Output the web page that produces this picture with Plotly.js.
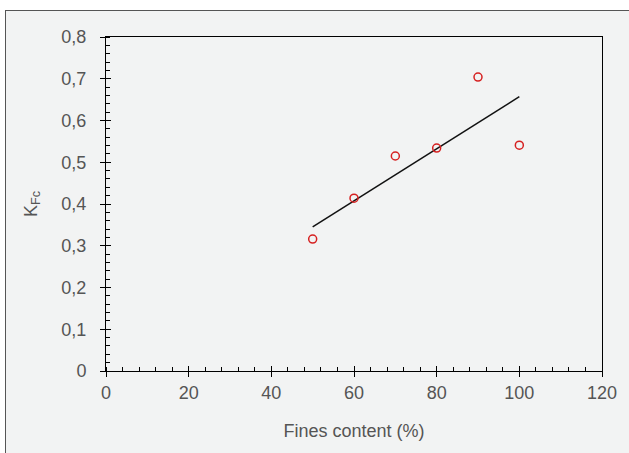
<!DOCTYPE html>
<html>
<head>
<meta charset="utf-8">
<script src="https://cdn.plot.ly/plotly-3.0.1.min.js"></script>
<style>
html,body{margin:0;padding:0;background:#ffffff;}
#frame{position:absolute;left:5px;top:10px;width:640px;height:460px;border:1px solid #555;background:#f2f3f3;box-sizing:border-box;}
#chart{position:absolute;left:0;top:0;width:629px;height:453px;}
</style>
</head>
<body>
<div id="frame"></div>
<div id="chart"></div>
<script>
// Data
const finesContent = [50, 60, 70, 80, 90, 100];
const kFc = [0.316, 0.414, 0.515, 0.534, 0.704, 0.541];
const trendX = [50, 100];
const trendY = [0.345, 0.657];
const xTickVals = [0, 20, 40, 60, 80, 100, 120];
const xTickText = ['0', '20', '40', '60', '80', '100', '120'];
const yTickVals = [0, 0.1, 0.2, 0.3, 0.4, 0.5, 0.6, 0.7, 0.8];
const yTickText = ['0', '0,1', '0,2', '0,3', '0,4', '0,5', '0,6', '0,7', '0,8'];

const font = {family: 'Liberation Sans, Arial, sans-serif', size: 18, color: '#555555'};

const traces = [
  {x: trendX, y: trendY, type: 'scatter', mode: 'lines',
   line: {color: '#111111', width: 1.5}, hoverinfo: 'skip', showlegend: false},
  {x: finesContent, y: kFc, type: 'scatter', mode: 'markers',
   marker: {symbol: 'circle-open', size: 8, color: '#d62020', line: {width: 1.5, color: '#d62020'}},
   showlegend: false},
  // helper invisible trace on overlay axes for crossing major ticks
  {x: [0], y: [0], xaxis: 'x2', yaxis: 'y2', type: 'scatter', mode: 'markers',
   marker: {opacity: 0}, hoverinfo: 'skip', showlegend: false}
];

const layout = {
  width: 629, height: 453,
  margin: {l: 106, r: 27, t: 37, b: 82},
  paper_bgcolor: 'rgba(0,0,0,0)',
  plot_bgcolor: 'rgba(0,0,0,0)',
  font: font,
  separators: ',.',
  xaxis: {
    range: [0, 120], tickvals: xTickVals, ticktext: xTickText,
    ticks: 'outside', ticklen: 5, tickwidth: 1, tickcolor: '#000',
    showline: true, linecolor: '#000', linewidth: 1, mirror: true,
    showgrid: false, zeroline: false,
    minor: {ticks: 'inside', dtick: 4, tick0: 0, ticklen: 4, tickcolor: '#000', tickwidth: 1},
    tickfont: font,
    title: {text: 'Fines content (%)', font: font, standoff: 22}
  },
  yaxis: {
    range: [0, 0.8], tickvals: yTickVals, ticktext: yTickText,
    ticks: 'outside', ticklen: 5, tickwidth: 1, tickcolor: '#000',
    showline: true, linecolor: '#000', linewidth: 1, mirror: true,
    showgrid: false, zeroline: false,
    minor: {ticks: 'inside', dtick: 0.02, tick0: 0, ticklen: 4, tickcolor: '#000', tickwidth: 1},
    tickfont: font,
    ticklabelstandoff: 10,
    title: {text: 'K<sub>Fc</sub>', font: font, standoff: 19}
  },
  xaxis2: {
    overlaying: 'x', range: [0, 120], dtick: 20, tick0: 0,
    ticks: 'inside', ticklen: 5, tickcolor: '#000', showticklabels: false,
    showgrid: false, zeroline: false, showline: false
  },
  yaxis2: {
    overlaying: 'y', range: [0, 0.8], dtick: 0.1, tick0: 0,
    ticks: 'inside', ticklen: 5, tickcolor: '#000', showticklabels: false,
    showgrid: false, zeroline: false, showline: false
  }
};

Plotly.newPlot('chart', traces, layout, {displayModeBar: false, staticPlot: true});
</script>
</body>
</html>
